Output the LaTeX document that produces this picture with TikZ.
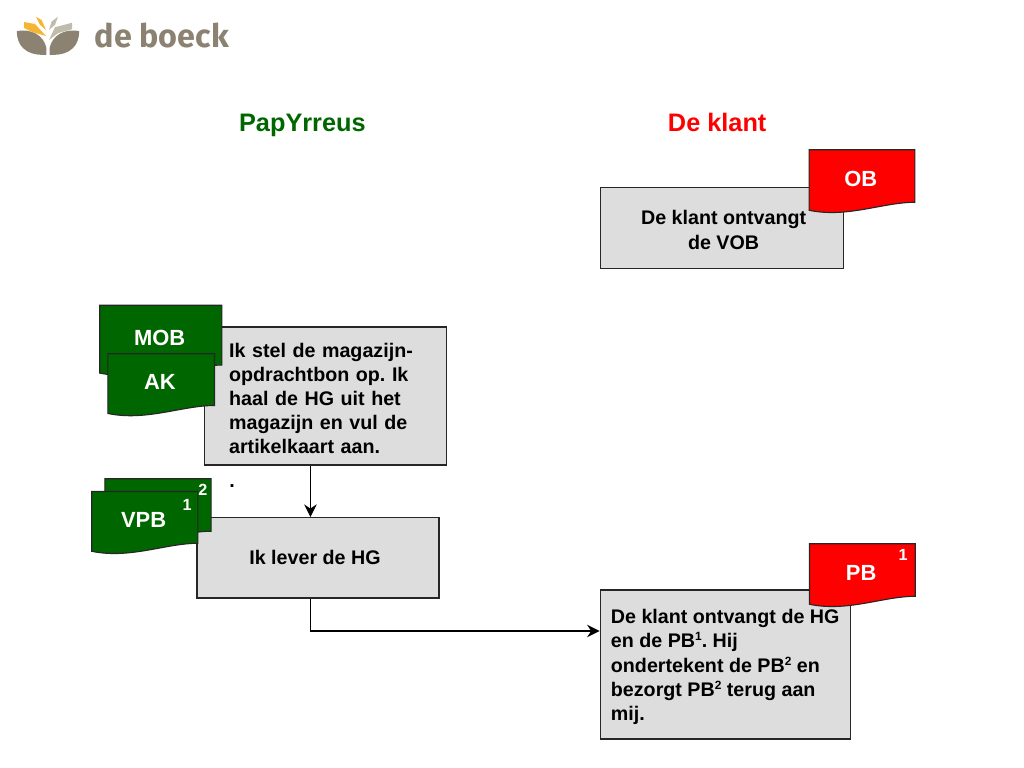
\documentclass[tikz,border=0pt]{standalone}
\usepackage{fontspec}
\setmainfont{Liberation Sans}
\newfontfamily\logofont{Fira Sans}
\usetikzlibrary{arrows.meta}
\frenchspacing
\definecolor{groen}{RGB}{0,102,0}
\definecolor{rood}{RGB}{255,0,0}
\definecolor{vakgrijs}{RGB}{221,221,221}
\definecolor{taupe}{RGB}{140,130,114}
\definecolor{geel}{RGB}{245,180,50}
\definecolor{lichtgrijs}{RGB}{192,188,172}
% kleine cijfers in de vakken
\newcommand{\hoog}[1]{\raisebox{4.9pt}{\fontsize{8.5}{10}\selectfont #1}}
% eerste regel iets lager in het vak
\newcommand{\lager}{\rule{0pt}{13.6pt}}
% document met golvende onderrand: naam, x, y (midden), breedte, hoogte, kleur, tekst
\newcommand{\blad}[7]{%
  \node[bladvorm, minimum width=#4 cm, minimum height=#5 cm] (#1) at (#2,#3) {};
  \draw[bladrand, fill=#6] (#1.north west) -- (#1.north east) -- ([yshift=0.3cm]#1.south east)
    .. controls ([xshift=-0.8cm,yshift=0.3cm]#1.south east) and ([xshift=0.95cm,yshift=-0.1cm]#1.south west) ..
    ([yshift=0.1cm]#1.south west) -- cycle;
  \node[bladtekst] (#1tekst) at (#2-0.03,#3+0.08) {#7};
}
\begin{document}
\begin{tikzpicture}
\tikzset{
    >={Stealth[inset=3pt,length=9pt,width=9pt]},
    pijl/.style={->, line width=0.8pt, black},
    vak/.style={rectangle, line width=0.8pt, draw=black!85, fill=vakgrijs, font=\fontsize{14}{17.2}\selectfont\bfseries},
    titel/.style={anchor=base, font=\fontsize{18}{22}\selectfont\bfseries},
    bladvorm/.style={rectangle, inner sep=0pt},
    bladrand/.style={line width=0.8pt, draw=black!85},
    bladtekst/.style={text=white, font=\fontsize{15.6}{18}\selectfont\bfseries},
    cijfer/.style={text=white, inner sep=0pt, font=\fontsize{11.5}{14}\selectfont\bfseries}
}
\useasboundingbox (0,0) rectangle (25.6,19.2);
% logo
\fill[taupe] (0.42,18.42) .. controls (0.8,18.5) and (1.1,18.3) .. (1.16,18.0) -- (1.16,17.83)
  .. controls (0.6,17.8) and (0.42,18.1) .. cycle;
\fill[taupe] (1.98,18.42) .. controls (1.6,18.5) and (1.3,18.3) .. (1.24,18.0) -- (1.24,17.83)
  .. controls (1.8,17.8) and (1.98,18.1) .. cycle;
\fill[geel] (0.6,18.65) -- (0.875,18.6) -- (1.15,18.3) -- (0.8,18.4) -- (0.6,18.5) -- cycle;
\fill[geel] (0.9,18.78) -- (1.04,18.7) -- (1.15,18.45) -- (1.0,18.58) -- cycle;
\fill[lichtgrijs] (1.8,18.63) -- (1.375,18.52) -- (1.225,18.2) -- (1.45,18.37) -- (1.8,18.47) -- cycle;
\fill[lichtgrijs] (1.45,18.78) -- (1.29,18.66) -- (1.225,18.45) -- (1.375,18.58) -- cycle;
\node[anchor=base west, inner sep=0pt, text=taupe, font=\fontsize{23}{26}\logofont\bfseries] (logo) at (2.36,18) {de boeck};
% titels
\node[titel, text=groen] (papyrreus) at (7.56,15.92) {PapYrreus};
\node[titel, text=rood]  (klant)     at (17.93,15.92) {De klant};
% vakken
\node[vak, minimum width=6.075cm, minimum height=2.025cm, align=center] (vob) at (18.04,13.51)
  {\lager\hspace*{0.1cm}De klant ontvangt\\\hspace*{0.1cm}de VOB};
\node[vak, minimum width=6.05cm, minimum height=3.45cm, inner xsep=0.6125cm, text width=4.825cm, align=left] (stel) at (8.14,9.3)
  {\lager Ik stel de magazijn-\\opdrachtbon op. Ik\\haal de HG uit het\\magazijn en vul de\\artikelkaart aan.};
\node[vak, minimum width=6.05cm, minimum height=2.01cm] (lever) at (7.95,5.256) {\hspace*{-0.15cm}Ik lever de HG};
\node[vak, minimum width=6.25cm, minimum height=3.725cm, align=left] (ontvang) at (18.13,2.5875)
  {\lager De klant ontvangt de HG\\en de PB\hoog{1}. Hij\\ondertekent de PB\hoog{2} en\\bezorgt PB\hoog{2} terug aan\\mij.};
\node[font=\fontsize{14}{17}\selectfont\bfseries, inner sep=0pt] (punt) at (5.8,7.05) {.};
% documenten
\blad{mob}{4.02}{10.67}{3.04}{1.78}{groen}{MOB}
\blad{ak}{4.03}{9.56}{2.65}{1.58}{groen}{AK}
\blad{vpbtwee}{3.95}{6.425}{2.64}{1.6}{groen}{}
\blad{vpb}{3.62}{6.115}{2.64}{1.58}{groen}{VPB}
\blad{ob}{21.55}{14.65}{2.63}{1.6}{rood}{OB}
\blad{pb}{21.56}{4.8}{2.63}{1.6}{rood}{PB}
\node[cijfer] (twee) at (5.07,6.95) {2};
\node[cijfer] (een)  at (4.68,6.575) {1};
\node[cijfer] (eenpb) at (22.58,5.325) {1};
% pijlen
\coordinate (lijn) at (7.76,3.425);
\draw[pijl] (stel.south -| lijn) -- (lever.north -| lijn);
\draw[pijl] (lever.south -| lijn) |- (ontvang.west |- lijn);
\end{tikzpicture}
\end{document}
